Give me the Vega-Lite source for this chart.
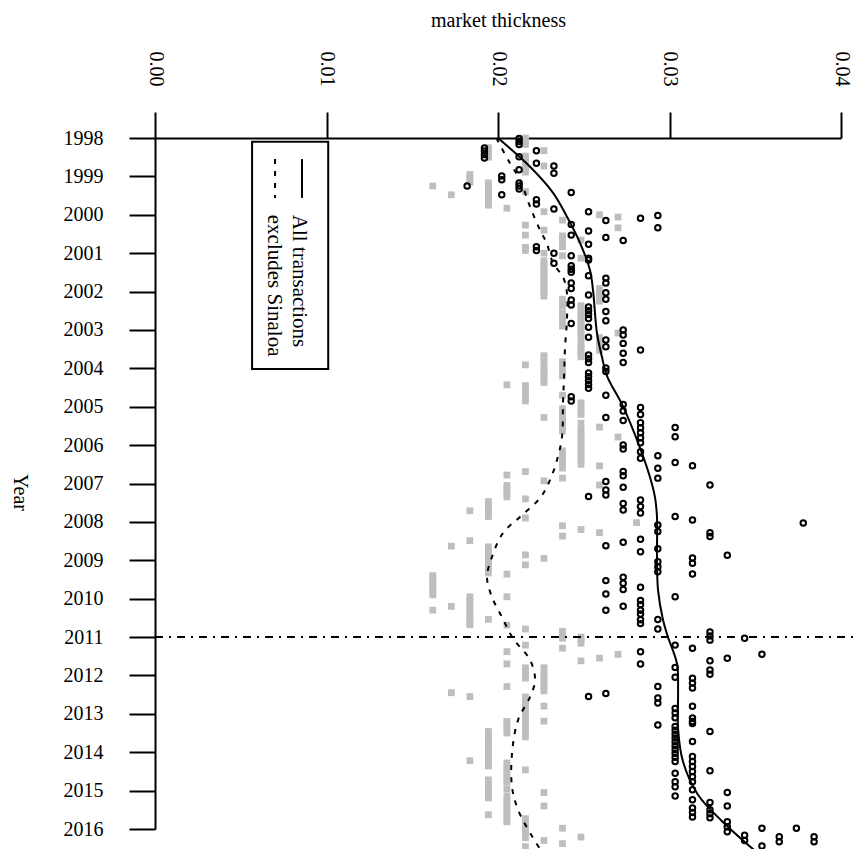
{
  "$schema": "https://vega.github.io/schema/vega-lite/v6.json",
  "width": 686,
  "height": 691,
  "autosize": {"type": "none"},
  "padding": {"left": 155, "top": 138, "right": 12, "bottom": 20},
  "background": "white",
  "config": {"view": {"stroke": null}, "font": "Liberation Serif"},
  "datasets": {
    "all": [
      {"year":1998.01,"thickness":0.02123},{"year":1998.09,"thickness":0.02123},{"year":1998.17,"thickness":0.02123},
      {"year":1998.26,"thickness":0.01921},{"year":1998.34,"thickness":0.01921},{"year":1998.43,"thickness":0.01921},{"year":1998.52,"thickness":0.01921},
      {"year":1998.33,"thickness":0.02224},{"year":1998.49,"thickness":0.02123},{"year":1998.66,"thickness":0.02224},{"year":1998.73,"thickness":0.02326},{"year":1998.92,"thickness":0.02326},{"year":1998.83,"thickness":0.02123},
      {"year":1998.99,"thickness":0.02022},{"year":1999.09,"thickness":0.02022},{"year":1999.25,"thickness":0.0182},
      {"year":1999.17,"thickness":0.02123},{"year":1999.25,"thickness":0.02123},{"year":1999.33,"thickness":0.02123},
      {"year":1999.48,"thickness":0.02022},{"year":1999.42,"thickness":0.02427},{"year":1999.61,"thickness":0.02224},{"year":1999.72,"thickness":0.02224},{"year":1999.85,"thickness":0.02326},{"year":1999.92,"thickness":0.02528},
      {"year":2000.15,"thickness":0.02629},{"year":2000.09,"thickness":0.02831},{"year":2000.02,"thickness":0.02932},{"year":2000.34,"thickness":0.02932},
      {"year":2000.25,"thickness":0.02427},{"year":2000.53,"thickness":0.02427},{"year":2001.07,"thickness":0.02427},
      {"year":2000.42,"thickness":0.02528},{"year":2000.77,"thickness":0.02528},{"year":2001.13,"thickness":0.02528},
      {"year":2000.59,"thickness":0.02629},{"year":2000.67,"thickness":0.0273},{"year":2000.83,"thickness":0.02224},{"year":2000.93,"thickness":0.02224},{"year":2001.0,"thickness":0.02326},
      {"year":2001.26,"thickness":0.02326},
      {"year":2001.33,"thickness":0.02427},{"year":2001.42,"thickness":0.02427},{"year":2001.5,"thickness":0.02427},{"year":2001.78,"thickness":0.02427},{"year":2001.92,"thickness":0.02427},{"year":2002.22,"thickness":0.02427},{"year":2002.35,"thickness":0.02427},{"year":2002.83,"thickness":0.02427},
      {"year":2001.18,"thickness":0.02528},{"year":2001.59,"thickness":0.02528},{"year":2002.09,"thickness":0.02528},{"year":2002.4,"thickness":0.02528},{"year":2002.5,"thickness":0.02528},{"year":2002.6,"thickness":0.02528},{"year":2002.7,"thickness":0.02528},{"year":2002.93,"thickness":0.02528},{"year":2003.19,"thickness":0.02528},{"year":2003.65,"thickness":0.02528},{"year":2003.75,"thickness":0.02528},{"year":2003.85,"thickness":0.02528},
      {"year":2001.65,"thickness":0.02629},{"year":2001.78,"thickness":0.02629},{"year":2002.03,"thickness":0.02629},{"year":2002.2,"thickness":0.02629},{"year":2002.52,"thickness":0.02629},{"year":2002.76,"thickness":0.02629},{"year":2003.26,"thickness":0.02629},{"year":2003.44,"thickness":0.02629},{"year":2003.99,"thickness":0.02629},{"year":2004.08,"thickness":0.02629},
      {"year":2003.0,"thickness":0.0273},{"year":2003.13,"thickness":0.0273},{"year":2003.35,"thickness":0.0273},{"year":2003.61,"thickness":0.0273},{"year":2003.85,"thickness":0.0273},
      {"year":2003.52,"thickness":0.02831},
      {"year":2004.12,"thickness":0.02528},{"year":2004.22,"thickness":0.02528},{"year":2004.32,"thickness":0.02528},{"year":2004.42,"thickness":0.02528},{"year":2004.52,"thickness":0.02528},{"year":2007.34,"thickness":0.02528},
      {"year":2004.7,"thickness":0.02629},{"year":2005.28,"thickness":0.02629},{"year":2006.95,"thickness":0.02629},{"year":2007.17,"thickness":0.02629},{"year":2007.3,"thickness":0.02629},
      {"year":2004.74,"thickness":0.02427},{"year":2004.85,"thickness":0.02427},
      {"year":2004.94,"thickness":0.0273},{"year":2005.11,"thickness":0.0273},{"year":2005.36,"thickness":0.0273},{"year":2006.0,"thickness":0.0273},{"year":2006.1,"thickness":0.0273},{"year":2006.69,"thickness":0.0273},{"year":2006.8,"thickness":0.0273},{"year":2007.1,"thickness":0.0273},
      {"year":2005.02,"thickness":0.02831},{"year":2005.2,"thickness":0.02831},{"year":2005.42,"thickness":0.02831},{"year":2005.55,"thickness":0.02831},{"year":2005.68,"thickness":0.02831},{"year":2005.81,"thickness":0.02831},{"year":2005.94,"thickness":0.02831},{"year":2006.17,"thickness":0.02831},{"year":2006.34,"thickness":0.02831},{"year":2007.43,"thickness":0.02831},
      {"year":2006.28,"thickness":0.02932},{"year":2006.6,"thickness":0.02932},{"year":2006.86,"thickness":0.02932},
      {"year":2005.54,"thickness":0.03033},{"year":2005.78,"thickness":0.03033},{"year":2006.45,"thickness":0.03033},
      {"year":2006.54,"thickness":0.03134},{"year":2007.04,"thickness":0.03236},
      {"year":2008.62,"thickness":0.02629},{"year":2009.53,"thickness":0.02629},{"year":2009.88,"thickness":0.02629},{"year":2010.3,"thickness":0.02629},
      {"year":2007.52,"thickness":0.0273},{"year":2007.69,"thickness":0.0273},{"year":2008.53,"thickness":0.0273},{"year":2009.44,"thickness":0.0273},{"year":2009.6,"thickness":0.0273},{"year":2009.76,"thickness":0.0273},{"year":2010.2,"thickness":0.0273},
      {"year":2007.6,"thickness":0.02831},{"year":2007.77,"thickness":0.02831},{"year":2008.45,"thickness":0.02831},{"year":2008.78,"thickness":0.02831},{"year":2009.7,"thickness":0.02831},{"year":2010.05,"thickness":0.02831},{"year":2010.15,"thickness":0.02831},{"year":2010.3,"thickness":0.02831},{"year":2010.4,"thickness":0.02831},{"year":2010.55,"thickness":0.02831},{"year":2010.65,"thickness":0.02831},
      {"year":2008.08,"thickness":0.02932},{"year":2008.25,"thickness":0.02932},{"year":2008.7,"thickness":0.02932},{"year":2009.04,"thickness":0.02932},{"year":2009.17,"thickness":0.02932},{"year":2009.3,"thickness":0.02932},{"year":2010.54,"thickness":0.02932},{"year":2010.79,"thickness":0.02932},
      {"year":2007.86,"thickness":0.03033},{"year":2009.95,"thickness":0.03033},
      {"year":2007.95,"thickness":0.03134},{"year":2008.94,"thickness":0.03134},{"year":2009.08,"thickness":0.03134},{"year":2009.36,"thickness":0.03134},
      {"year":2008.28,"thickness":0.03236},{"year":2008.38,"thickness":0.03236},{"year":2008.87,"thickness":0.03337},{"year":2008.03,"thickness":0.0378},
      {"year":2012.55,"thickness":0.02528},{"year":2012.47,"thickness":0.02629},{"year":2011.38,"thickness":0.02831},{"year":2011.7,"thickness":0.02831},
      {"year":2012.29,"thickness":0.02932},{"year":2012.59,"thickness":0.02932},{"year":2012.72,"thickness":0.02932},{"year":2013.29,"thickness":0.02932},
      {"year":2011.21,"thickness":0.03033},{"year":2011.79,"thickness":0.03033},{"year":2012.05,"thickness":0.03033},{"year":2012.86,"thickness":0.03033},{"year":2012.98,"thickness":0.03033},{"year":2013.1,"thickness":0.03033},
      {"year":2011.29,"thickness":0.03134},{"year":2012.07,"thickness":0.03134},{"year":2012.2,"thickness":0.03134},{"year":2012.33,"thickness":0.03134},{"year":2012.8,"thickness":0.03134},{"year":2013.11,"thickness":0.03134},{"year":2013.25,"thickness":0.03134},
      {"year":2010.87,"thickness":0.03236},{"year":2010.97,"thickness":0.03236},{"year":2011.08,"thickness":0.03236},{"year":2011.62,"thickness":0.03236},{"year":2011.86,"thickness":0.03236},{"year":2011.97,"thickness":0.03236},
      {"year":2011.55,"thickness":0.03337},{"year":2011.03,"thickness":0.03438},{"year":2011.45,"thickness":0.03539},
      {"year":2013.33,"thickness":0.03033},{"year":2013.43,"thickness":0.03033},{"year":2013.53,"thickness":0.03033},{"year":2013.63,"thickness":0.03033},{"year":2013.73,"thickness":0.03033},{"year":2013.83,"thickness":0.03033},{"year":2013.93,"thickness":0.03033},{"year":2014.03,"thickness":0.03033},{"year":2014.13,"thickness":0.03033},{"year":2014.24,"thickness":0.03033},{"year":2014.55,"thickness":0.03033},{"year":2014.77,"thickness":0.03033},{"year":2014.9,"thickness":0.03033},{"year":2015.14,"thickness":0.03033},
      {"year":2013.2,"thickness":0.03134},{"year":2013.72,"thickness":0.03134},{"year":2014.11,"thickness":0.03134},{"year":2014.24,"thickness":0.03134},{"year":2014.37,"thickness":0.03134},{"year":2014.5,"thickness":0.03134},{"year":2014.64,"thickness":0.03134},{"year":2014.77,"thickness":0.03134},{"year":2014.98,"thickness":0.03134},{"year":2015.24,"thickness":0.03134},{"year":2015.45,"thickness":0.03134},{"year":2015.57,"thickness":0.03134},{"year":2015.69,"thickness":0.03134},
      {"year":2013.46,"thickness":0.03236},{"year":2014.48,"thickness":0.03236},{"year":2015.31,"thickness":0.03236},{"year":2015.5,"thickness":0.03236},{"year":2015.6,"thickness":0.03236},{"year":2015.71,"thickness":0.03236},
      {"year":2015.05,"thickness":0.03337},{"year":2015.4,"thickness":0.03337},{"year":2015.81,"thickness":0.03337},{"year":2015.94,"thickness":0.03337},{"year":2016.07,"thickness":0.03337},
      {"year":2016.16,"thickness":0.03438},{"year":2016.3,"thickness":0.03438},
      {"year":2015.98,"thickness":0.03539},{"year":2016.44,"thickness":0.03539},
      {"year":2016.2,"thickness":0.0364},{"year":2016.33,"thickness":0.0364},
      {"year":2015.98,"thickness":0.0374},{"year":2016.2,"thickness":0.03843},{"year":2016.33,"thickness":0.03843}
    ],
    "excl": [
      {"year":1998.0,"thickness":0.0216},{"year":1998.08,"thickness":0.0216},{"year":1998.17,"thickness":0.0216},{"year":1998.47,"thickness":0.0216},{"year":1998.55,"thickness":0.0216},{"year":1998.64,"thickness":0.0216},{"year":1998.72,"thickness":0.0216},{"year":1998.81,"thickness":0.0216},{"year":1998.89,"thickness":0.0216},{"year":1999.4,"thickness":0.0216},{"year":2000.27,"thickness":0.0216},{"year":2000.53,"thickness":0.0216},{"year":2000.85,"thickness":0.0216},{"year":2000.93,"thickness":0.0216},{"year":2003.91,"thickness":0.0216},{"year":2004.45,"thickness":0.0216},{"year":2004.55,"thickness":0.0216},{"year":2004.65,"thickness":0.0216},{"year":2004.75,"thickness":0.0216},{"year":2004.85,"thickness":0.0216},{"year":2006.69,"thickness":0.0216},{"year":2007.4,"thickness":0.0216},{"year":2007.9,"thickness":0.0216},{"year":2008.86,"thickness":0.0216},{"year":2009.12,"thickness":0.0216},{"year":2010.79,"thickness":0.0216},{"year":2011.21,"thickness":0.0216},{"year":2011.8,"thickness":0.0216},{"year":2011.9,"thickness":0.0216},{"year":2012.0,"thickness":0.0216},{"year":2012.07,"thickness":0.0216},{"year":2012.56,"thickness":0.0216},{"year":2012.65,"thickness":0.0216},{"year":2012.75,"thickness":0.0216},{"year":2012.85,"thickness":0.0216},{"year":2012.95,"thickness":0.0216},{"year":2013.05,"thickness":0.0216},{"year":2013.15,"thickness":0.0216},{"year":2013.3,"thickness":0.0216},{"year":2013.4,"thickness":0.0216},{"year":2013.5,"thickness":0.0216},{"year":2013.6,"thickness":0.0216},{"year":2014.46,"thickness":0.0216},{"year":2015.73,"thickness":0.0216},{"year":2015.83,"thickness":0.0216},{"year":2015.93,"thickness":0.0216},{"year":2016.03,"thickness":0.0216},{"year":2016.13,"thickness":0.0216},{"year":2016.23,"thickness":0.0216},{"year":2016.46,"thickness":0.0216},
      {"year":1998.25,"thickness":0.01944},{"year":1998.33,"thickness":0.01944},{"year":1998.42,"thickness":0.01944},{"year":1998.5,"thickness":0.01944},{"year":1999.17,"thickness":0.01944},{"year":1999.25,"thickness":0.01944},{"year":1999.33,"thickness":0.01944},{"year":1999.42,"thickness":0.01944},{"year":1999.5,"thickness":0.01944},{"year":1999.58,"thickness":0.01944},{"year":1999.67,"thickness":0.01944},{"year":1999.75,"thickness":0.01944},{"year":2007.47,"thickness":0.01944},{"year":2007.57,"thickness":0.01944},{"year":2007.67,"thickness":0.01944},{"year":2007.77,"thickness":0.01944},{"year":2007.86,"thickness":0.01944},{"year":2008.65,"thickness":0.01944},{"year":2008.75,"thickness":0.01944},{"year":2008.85,"thickness":0.01944},{"year":2008.95,"thickness":0.01944},{"year":2009.05,"thickness":0.01944},{"year":2009.15,"thickness":0.01944},{"year":2009.25,"thickness":0.01944},{"year":2009.33,"thickness":0.01944},{"year":2010.54,"thickness":0.01944},{"year":2013.46,"thickness":0.01944},{"year":2013.56,"thickness":0.01944},{"year":2013.66,"thickness":0.01944},{"year":2013.76,"thickness":0.01944},{"year":2013.86,"thickness":0.01944},{"year":2013.96,"thickness":0.01944},{"year":2014.06,"thickness":0.01944},{"year":2014.16,"thickness":0.01944},{"year":2014.26,"thickness":0.01944},{"year":2014.36,"thickness":0.01944},{"year":2014.72,"thickness":0.01944},{"year":2014.82,"thickness":0.01944},{"year":2014.92,"thickness":0.01944},{"year":2015.02,"thickness":0.01944},{"year":2015.12,"thickness":0.01944},{"year":2015.19,"thickness":0.01944},{"year":2015.63,"thickness":0.01944},
      {"year":1998.33,"thickness":0.02268},{"year":1998.73,"thickness":0.02268},{"year":1999.92,"thickness":0.02268},{"year":2000.4,"thickness":0.02268},{"year":2001.0,"thickness":0.02268},{"year":2001.2,"thickness":0.02268},{"year":2001.28,"thickness":0.02268},{"year":2001.37,"thickness":0.02268},{"year":2001.45,"thickness":0.02268},{"year":2001.53,"thickness":0.02268},{"year":2001.62,"thickness":0.02268},{"year":2001.7,"thickness":0.02268},{"year":2001.78,"thickness":0.02268},{"year":2001.87,"thickness":0.02268},{"year":2001.95,"thickness":0.02268},{"year":2002.03,"thickness":0.02268},{"year":2002.12,"thickness":0.02268},{"year":2003.67,"thickness":0.02268},{"year":2003.75,"thickness":0.02268},{"year":2003.83,"thickness":0.02268},{"year":2003.99,"thickness":0.02268},{"year":2004.08,"thickness":0.02268},{"year":2004.17,"thickness":0.02268},{"year":2004.27,"thickness":0.02268},{"year":2004.37,"thickness":0.02268},{"year":2005.28,"thickness":0.02268},{"year":2006.93,"thickness":0.02268},{"year":2008.95,"thickness":0.02268},{"year":2011.8,"thickness":0.02268},{"year":2011.9,"thickness":0.02268},{"year":2012.0,"thickness":0.02268},{"year":2012.1,"thickness":0.02268},{"year":2012.2,"thickness":0.02268},{"year":2012.3,"thickness":0.02268},{"year":2012.4,"thickness":0.02268},{"year":2012.8,"thickness":0.02268},{"year":2013.19,"thickness":0.02268},{"year":2015.05,"thickness":0.02268},{"year":2015.4,"thickness":0.02268},{"year":2016.3,"thickness":0.02268},
      {"year":1998.95,"thickness":0.01836},{"year":1999.05,"thickness":0.01836},{"year":1999.15,"thickness":0.01836},{"year":2007.71,"thickness":0.01836},{"year":2008.49,"thickness":0.01836},{"year":2009.95,"thickness":0.01836},{"year":2010.05,"thickness":0.01836},{"year":2010.15,"thickness":0.01836},{"year":2010.3,"thickness":0.01836},{"year":2010.4,"thickness":0.01836},{"year":2010.5,"thickness":0.01836},{"year":2010.6,"thickness":0.01836},{"year":2010.68,"thickness":0.01836},{"year":2012.55,"thickness":0.01836},{"year":2014.22,"thickness":0.01836},
      {"year":1999.48,"thickness":0.01728},{"year":2008.63,"thickness":0.01728},{"year":2010.2,"thickness":0.01728},{"year":2012.45,"thickness":0.01728},
      {"year":1999.25,"thickness":0.0162},{"year":2009.4,"thickness":0.0162},{"year":2009.5,"thickness":0.0162},{"year":2009.6,"thickness":0.0162},{"year":2009.7,"thickness":0.0162},{"year":2009.8,"thickness":0.0162},{"year":2009.9,"thickness":0.0162},{"year":2010.3,"thickness":0.0162},
      {"year":1999.83,"thickness":0.02052},{"year":2004.43,"thickness":0.02052},{"year":2006.78,"thickness":0.02052},{"year":2007.05,"thickness":0.02052},{"year":2007.15,"thickness":0.02052},{"year":2007.25,"thickness":0.02052},{"year":2007.35,"thickness":0.02052},{"year":2009.36,"thickness":0.02052},{"year":2009.95,"thickness":0.02052},{"year":2010.69,"thickness":0.02052},{"year":2011.38,"thickness":0.02052},{"year":2011.7,"thickness":0.02052},{"year":2012.29,"thickness":0.02052},{"year":2013.2,"thickness":0.02052},{"year":2013.3,"thickness":0.02052},{"year":2013.4,"thickness":0.02052},{"year":2013.5,"thickness":0.02052},{"year":2014.28,"thickness":0.02052},{"year":2014.38,"thickness":0.02052},{"year":2014.48,"thickness":0.02052},{"year":2014.58,"thickness":0.02052},{"year":2014.68,"thickness":0.02052},{"year":2014.78,"thickness":0.02052},{"year":2014.96,"thickness":0.02052},{"year":2015.14,"thickness":0.02052},{"year":2015.24,"thickness":0.02052},{"year":2015.34,"thickness":0.02052},{"year":2015.44,"thickness":0.02052},{"year":2015.54,"thickness":0.02052},{"year":2015.64,"thickness":0.02052},{"year":2015.74,"thickness":0.02052},{"year":2015.81,"thickness":0.02052},
      {"year":2000.14,"thickness":0.02376},{"year":2000.55,"thickness":0.02376},{"year":2000.65,"thickness":0.02376},{"year":2000.75,"thickness":0.02376},{"year":2000.83,"thickness":0.02376},{"year":2001.07,"thickness":0.02376},{"year":2002.2,"thickness":0.02376},{"year":2002.28,"thickness":0.02376},{"year":2002.37,"thickness":0.02376},{"year":2002.55,"thickness":0.02376},{"year":2002.63,"thickness":0.02376},{"year":2002.72,"thickness":0.02376},{"year":2002.8,"thickness":0.02376},{"year":2002.9,"thickness":0.02376},{"year":2003.83,"thickness":0.02376},{"year":2004.0,"thickness":0.02376},{"year":2004.1,"thickness":0.02376},{"year":2004.2,"thickness":0.02376},{"year":2004.7,"thickness":0.02376},{"year":2005.05,"thickness":0.02376},{"year":2005.13,"thickness":0.02376},{"year":2005.22,"thickness":0.02376},{"year":2005.3,"thickness":0.02376},{"year":2005.38,"thickness":0.02376},{"year":2005.47,"thickness":0.02376},{"year":2005.55,"thickness":0.02376},{"year":2005.63,"thickness":0.02376},{"year":2006.15,"thickness":0.02376},{"year":2006.25,"thickness":0.02376},{"year":2006.35,"thickness":0.02376},{"year":2006.45,"thickness":0.02376},{"year":2006.6,"thickness":0.02376},{"year":2006.86,"thickness":0.02376},{"year":2008.1,"thickness":0.02376},{"year":2008.37,"thickness":0.02376},{"year":2010.85,"thickness":0.02376},{"year":2010.95,"thickness":0.02376},{"year":2011.03,"thickness":0.02376},{"year":2011.29,"thickness":0.02376},{"year":2015.98,"thickness":0.02376},{"year":2016.38,"thickness":0.02376},
      {"year":2000.66,"thickness":0.02484},{"year":2001.13,"thickness":0.02484},{"year":2002.37,"thickness":0.02484},{"year":2002.45,"thickness":0.02484},{"year":2002.53,"thickness":0.02484},{"year":2002.62,"thickness":0.02484},{"year":2002.7,"thickness":0.02484},{"year":2002.78,"thickness":0.02484},{"year":2002.87,"thickness":0.02484},{"year":2002.95,"thickness":0.02484},{"year":2003.03,"thickness":0.02484},{"year":2003.12,"thickness":0.02484},{"year":2003.2,"thickness":0.02484},{"year":2003.37,"thickness":0.02484},{"year":2003.45,"thickness":0.02484},{"year":2003.53,"thickness":0.02484},{"year":2003.62,"thickness":0.02484},{"year":2003.7,"thickness":0.02484},{"year":2004.9,"thickness":0.02484},{"year":2005.0,"thickness":0.02484},{"year":2005.1,"thickness":0.02484},{"year":2005.2,"thickness":0.02484},{"year":2005.43,"thickness":0.02484},{"year":2005.6,"thickness":0.02484},{"year":2005.7,"thickness":0.02484},{"year":2005.8,"thickness":0.02484},{"year":2005.9,"thickness":0.02484},{"year":2006.0,"thickness":0.02484},{"year":2006.1,"thickness":0.02484},{"year":2006.2,"thickness":0.02484},{"year":2006.3,"thickness":0.02484},{"year":2006.4,"thickness":0.02484},{"year":2006.5,"thickness":0.02484},{"year":2008.2,"thickness":0.02484},{"year":2011.0,"thickness":0.02484},{"year":2011.08,"thickness":0.02484},{"year":2011.16,"thickness":0.02484},{"year":2011.62,"thickness":0.02484},{"year":2016.21,"thickness":0.02484},
      {"year":2000.0,"thickness":0.02592},{"year":2001.92,"thickness":0.02592},{"year":2002.0,"thickness":0.02592},{"year":2002.08,"thickness":0.02592},{"year":2002.17,"thickness":0.02592},{"year":2002.25,"thickness":0.02592},{"year":2003.2,"thickness":0.02592},{"year":2003.28,"thickness":0.02592},{"year":2003.37,"thickness":0.02592},{"year":2003.45,"thickness":0.02592},{"year":2003.53,"thickness":0.02592},{"year":2005.53,"thickness":0.02592},{"year":2006.54,"thickness":0.02592},{"year":2007.04,"thickness":0.02592},{"year":2008.28,"thickness":0.02592},{"year":2011.55,"thickness":0.02592},
      {"year":2000.06,"thickness":0.027},{"year":2000.34,"thickness":0.027},{"year":2003.08,"thickness":0.027},{"year":2005.79,"thickness":0.027},{"year":2011.45,"thickness":0.027},
      {"year":2008.02,"thickness":0.02808}
    ],
    "fitAll": [
      {"year":1998.0,"thickness":0.02},{"year":1998.75,"thickness":0.02187},{"year":1999.43,"thickness":0.02321},{"year":2000.05,"thickness":0.02402},{"year":2000.73,"thickness":0.02478},{"year":2001.44,"thickness":0.02536},{"year":2001.96,"thickness":0.02554},{"year":2003.08,"thickness":0.02577},{"year":2003.7,"thickness":0.02606},{"year":2004.2,"thickness":0.02636},{"year":2004.99,"thickness":0.02729},{"year":2006.07,"thickness":0.02828},{"year":2006.83,"thickness":0.02886},{"year":2007.35,"thickness":0.02915},{"year":2007.87,"thickness":0.02927},{"year":2008.91,"thickness":0.02927},{"year":2009.77,"thickness":0.02933},{"year":2010.55,"thickness":0.02962},{"year":2011.0,"thickness":0.02991},{"year":2011.7,"thickness":0.03044},{"year":2012.43,"thickness":0.0305},{"year":2013.39,"thickness":0.0305},{"year":2014.25,"thickness":0.03079},{"year":2015.1,"thickness":0.03165},{"year":2015.79,"thickness":0.03305},{"year":2016.65,"thickness":0.0352}
    ],
    "fitExcl": [
      {"year":1998.0,"thickness":0.0199},{"year":1998.66,"thickness":0.0207},{"year":1999.09,"thickness":0.02128},{"year":1999.79,"thickness":0.02187},{"year":2000.4,"thickness":0.02245},{"year":2000.74,"thickness":0.02284},{"year":2001.26,"thickness":0.02321},{"year":2001.62,"thickness":0.02379},{"year":2002.04,"thickness":0.02402},{"year":2002.74,"thickness":0.02402},{"year":2003.44,"thickness":0.02391},{"year":2004.23,"thickness":0.02385},{"year":2004.9,"thickness":0.02379},{"year":2005.79,"thickness":0.02373},{"year":2006.39,"thickness":0.02344},{"year":2006.91,"thickness":0.02303},{"year":2007.38,"thickness":0.02245},{"year":2007.87,"thickness":0.02128},{"year":2008.29,"thickness":0.02029},{"year":2008.91,"thickness":0.01965},{"year":2009.44,"thickness":0.01936},{"year":2009.96,"thickness":0.01965},{"year":2010.48,"thickness":0.02023},{"year":2011.03,"thickness":0.02087},{"year":2011.6,"thickness":0.02187},{"year":2012.12,"thickness":0.02216},{"year":2012.56,"thickness":0.02187},{"year":2013.16,"thickness":0.02117},{"year":2014.02,"thickness":0.02082},{"year":2014.91,"thickness":0.02082},{"year":2015.5,"thickness":0.02117},{"year":2016.23,"thickness":0.02204},{"year":2016.55,"thickness":0.0225}
    ]
  },
  "encoding": {
    "x": {"field": "thickness", "type": "quantitative",
      "scale": {"domain": [0, 0.04], "nice": false, "zero": false},
      "axis": {"orient": "top", "values": [0, 0.01, 0.02, 0.03, 0.04], "format": ".2f",
        "labelAngle": 90, "labelAlign": "right", "labelBaseline": "middle",
        "labelFont": "Liberation Serif", "labelFontSize": 20, "labelColor": "black", "labelPadding": 26,
        "tickSize": 26, "tickWidth": 2, "tickColor": "black", "domainWidth": 2, "domainColor": "black",
        "grid": false, "labelOverlap": false, "labelFlush": false,
        "title": "market thickness", "titleFont": "Liberation Serif", "titleFontSize": 20, "titleFontWeight": "normal",
        "titleColor": "black", "titleBaseline": "alphabetic", "titleY": -112, "titleX": 343, "titleAlign": "center"}},
    "y": {"field": "year", "type": "quantitative",
      "scale": {"domain": [1998, 2016], "nice": false, "zero": false, "reverse": true},
      "axis": {"orient": "left", "values": [1998,1999,2000,2001,2002,2003,2004,2005,2006,2007,2008,2009,2010,2011,2012,2013,2014,2015,2016], "format": "d",
        "labelFont": "Liberation Serif", "labelFontSize": 20, "labelColor": "black", "labelPadding": 26,
        "labelAlign": "right", "labelBaseline": "middle", "labelOverlap": false, "labelFlush": false,
        "tickSize": 26, "tickWidth": 2, "tickColor": "black", "domainWidth": 2, "domainColor": "black",
        "grid": false,
        "title": "Year", "titleFont": "Liberation Serif", "titleFontSize": 20, "titleFontWeight": "normal",
        "titleColor": "black", "titleAngle": 90, "titleAlign": "center", "titleBaseline": "middle",
        "titleX": -136, "titleY": 354}}
  },
  "layer": [
    {
      "data": {"name": "excl"},
      "mark": {"type": "point", "shape": "square", "filled": true, "color": "#bebebe", "size": 46, "opacity": 1}
    },
    {
      "data": {"name": "all"},
      "mark": {"type": "point", "shape": "circle", "filled": false, "color": "black", "size": 30, "strokeWidth": 2, "opacity": 1}
    },
    {
      "data": {"name": "fitAll"},
      "mark": {"type": "line", "color": "black", "strokeWidth": 2, "interpolate": "catmull-rom"},
      "encoding": {"order": {"field": "year", "type": "quantitative"}}
    },
    {
      "data": {"name": "fitExcl"},
      "mark": {"type": "line", "color": "black", "strokeWidth": 2, "strokeDash": [5, 7], "interpolate": "catmull-rom"},
      "encoding": {"order": {"field": "year", "type": "quantitative"}}
    },
    {
      "data": {"values": [{"thickness": 0, "thickness2": 0.0407, "year": 2011}]},
      "mark": {"type": "rule", "color": "black", "strokeWidth": 2, "strokeDash": [8, 6, 2, 6], "strokeCap": "butt"},
      "encoding": {"x2": {"field": "thickness2"}}
    },
    {
      "data": {"values": [{"thickness": 0.00566, "thickness2": 0.0101, "year": 1998.1, "year2": 2004.02}]},
      "mark": {"type": "rect", "fill": "white", "stroke": "black", "strokeWidth": 2},
      "encoding": {"x2": {"field": "thickness2"}, "y2": {"field": "year2"}}
    },
    {
      "data": {"values": [{"thickness": 0.00857, "year": 1998.55, "year2": 1999.56}]},
      "mark": {"type": "rule", "color": "black", "strokeWidth": 2},
      "encoding": {"y2": {"field": "year2"}}
    },
    {
      "data": {"values": [{"thickness": 0.0070, "year": 1998.55, "year2": 1999.56}]},
      "mark": {"type": "rule", "color": "black", "strokeWidth": 2, "strokeDash": [5, 7]},
      "encoding": {"y2": {"field": "year2"}}
    },
    {
      "data": {"values": [{"thickness": 0.00837, "year": 2000.0, "label": "All transactions"}, {"thickness": 0.00691, "year": 2000.0, "label": "excludes Sinaloa"}]},
      "mark": {"type": "text", "angle": 90, "align": "left", "baseline": "middle", "font": "Liberation Serif", "fontSize": 21, "color": "black"},
      "encoding": {"text": {"field": "label"}}
    }
  ]
}
